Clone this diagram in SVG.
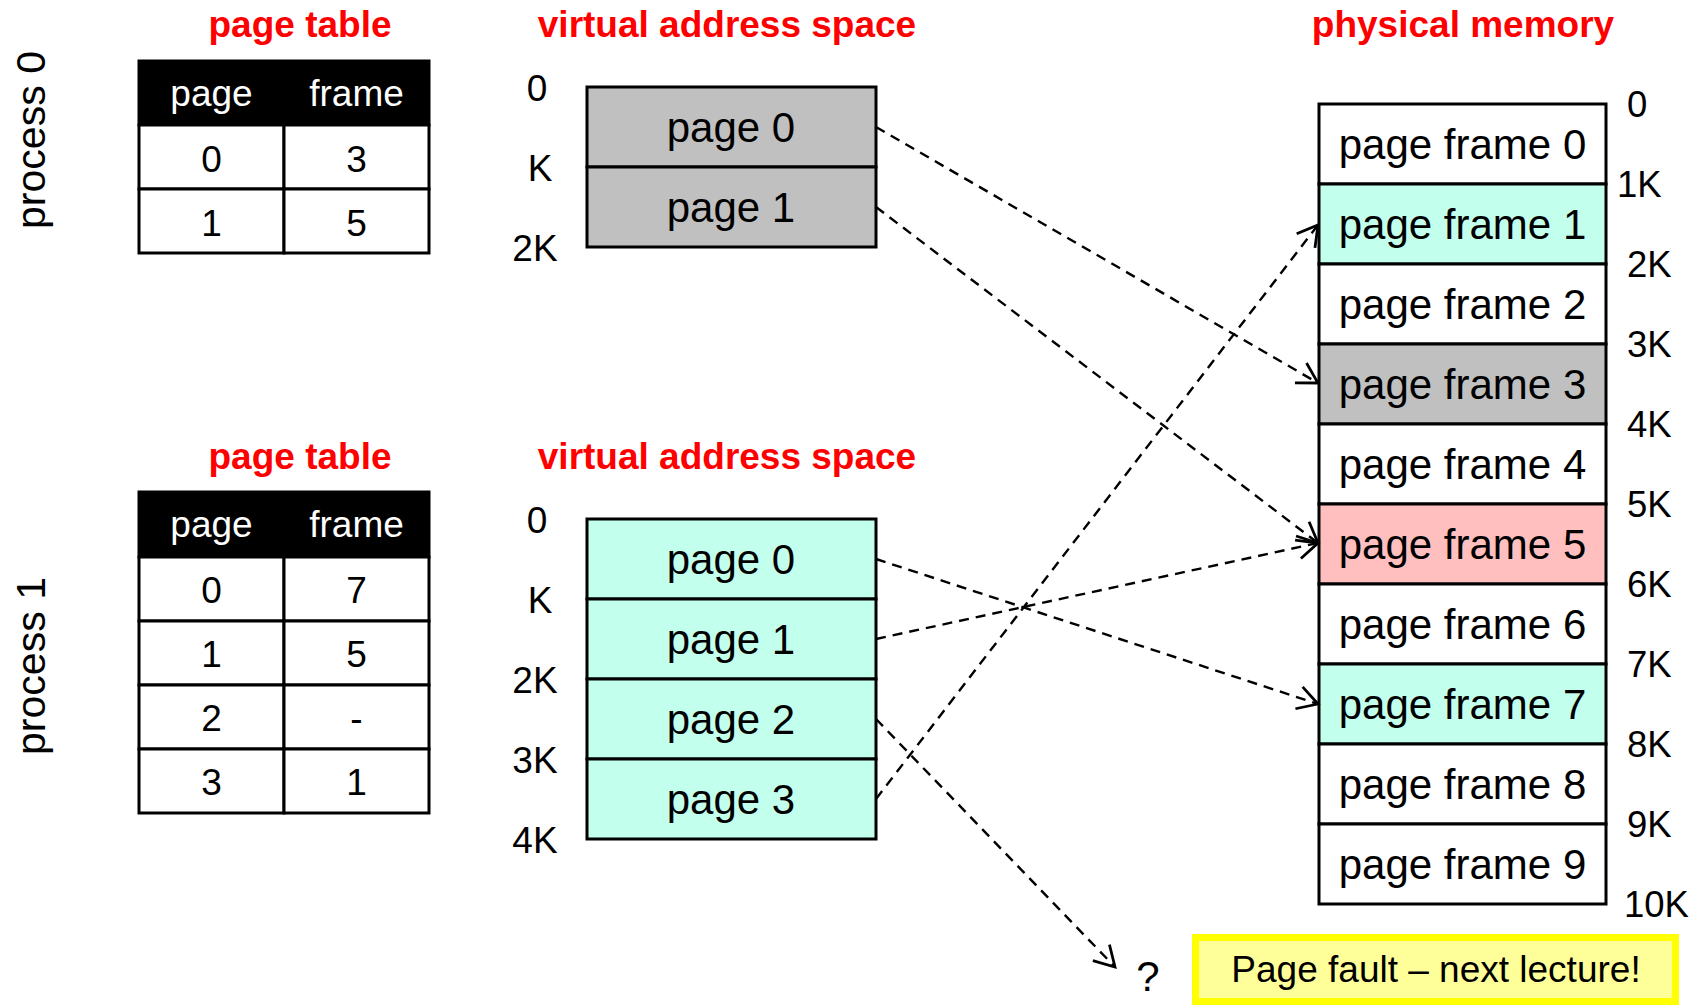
<svg xmlns="http://www.w3.org/2000/svg" width="1691" height="1005" viewBox="0 0 1691 1005">
<defs>
<style>
text{font-family:"Liberation Sans",Arial,sans-serif;fill:#000}
.title{font-size:37px;font-weight:bold;fill:#FF0000;text-anchor:middle}
.cell{fill:#fff;stroke:#000;stroke-width:3}
.hdr{fill:#000;stroke:#000;stroke-width:3}
.ht{fill:#fff;font-size:37px;text-anchor:middle}
.ct{font-size:37px;text-anchor:middle}
.pg{stroke:#000;stroke-width:3}
.gray{fill:#C0C0C0}
.mint{fill:#C2FFEC}
.pink{fill:#FFBFBF}
.white{fill:#fff}
.pt{font-size:42px;text-anchor:middle}
.vl{font-size:37px;text-anchor:middle}
.pl{font-size:36.5px}
.proc{font-size:40px;text-anchor:middle}
.conn{fill:none;stroke:#000;stroke-width:2.4;stroke-dasharray:10 7;marker-end:url(#arr)}
</style>
<marker id="arr" markerUnits="userSpaceOnUse" markerWidth="30" markerHeight="30" viewBox="-22 -13 24 26" refX="0" refY="0" orient="auto">
<path d="M-17.3,-10 L0,0 L-17.3,10" fill="none" stroke="#000" stroke-width="2.4"/>
</marker>
</defs>

<g id="proc0-label"><text class="proc" transform="translate(45,140) rotate(-90)" textLength="178" lengthAdjust="spacingAndGlyphs">process 0</text></g>
<g id="proc1-label"><text class="proc" transform="translate(45,666) rotate(-90)" textLength="178" lengthAdjust="spacingAndGlyphs">process 1</text></g>

<g id="titles">
<text class="title" x="300" y="37">page table</text>
<text class="title" x="727" y="37">virtual address space</text>
<text class="title" x="1463" y="37">physical memory</text>
<text class="title" x="300" y="469">page table</text>
<text class="title" x="727" y="469">virtual address space</text>
</g>

<g id="pagetable0">
<rect class="hdr" x="139" y="61" width="290" height="64"/>
<rect class="cell" x="139" y="125" width="145" height="64"/>
<rect class="cell" x="284" y="125" width="145" height="64"/>
<rect class="cell" x="139" y="189" width="145" height="64"/>
<rect class="cell" x="284" y="189" width="145" height="64"/>
<text class="ht" x="211.5" y="106">page</text>
<text class="ht" x="356.5" y="106">frame</text>
<text class="ct" x="211.5" y="172">0</text>
<text class="ct" x="356.5" y="172">3</text>
<text class="ct" x="211.5" y="236">1</text>
<text class="ct" x="356.5" y="236">5</text>
</g>

<g id="pagetable1">
<rect class="hdr" x="139" y="492" width="290" height="65"/>
<rect class="cell" x="139" y="557" width="145" height="64"/>
<rect class="cell" x="284" y="557" width="145" height="64"/>
<rect class="cell" x="139" y="621" width="145" height="64"/>
<rect class="cell" x="284" y="621" width="145" height="64"/>
<rect class="cell" x="139" y="685" width="145" height="64"/>
<rect class="cell" x="284" y="685" width="145" height="64"/>
<rect class="cell" x="139" y="749" width="145" height="64"/>
<rect class="cell" x="284" y="749" width="145" height="64"/>
<text class="ht" x="211.5" y="537">page</text>
<text class="ht" x="356.5" y="537">frame</text>
<text class="ct" x="211.5" y="603">0</text>
<text class="ct" x="356.5" y="603">7</text>
<text class="ct" x="211.5" y="667">1</text>
<text class="ct" x="356.5" y="667">5</text>
<text class="ct" x="211.5" y="731">2</text>
<text class="ct" x="356.5" y="731">-</text>
<text class="ct" x="211.5" y="795">3</text>
<text class="ct" x="356.5" y="795">1</text>
</g>

<g id="vas0">
<rect class="pg gray" x="587" y="87" width="289" height="80"/>
<rect class="pg gray" x="587" y="167" width="289" height="80"/>
<text class="pt" x="731" y="142">page 0</text>
<text class="pt" x="731" y="222">page 1</text>
<text class="vl" x="537" y="101">0</text>
<text class="vl" x="540" y="181">K</text>
<text class="vl" x="535" y="261">2K</text>
</g>

<g id="vas1">
<rect class="pg mint" x="587" y="519" width="289" height="80"/>
<rect class="pg mint" x="587" y="599" width="289" height="80"/>
<rect class="pg mint" x="587" y="679" width="289" height="80"/>
<rect class="pg mint" x="587" y="759" width="289" height="80"/>
<text class="pt" x="731" y="574">page 0</text>
<text class="pt" x="731" y="654">page 1</text>
<text class="pt" x="731" y="734">page 2</text>
<text class="pt" x="731" y="814">page 3</text>
<text class="vl" x="537" y="533">0</text>
<text class="vl" x="540" y="613">K</text>
<text class="vl" x="535" y="693">2K</text>
<text class="vl" x="535" y="773">3K</text>
<text class="vl" x="535" y="853">4K</text>
</g>

<g id="physmem">
<rect class="pg white" x="1319" y="104" width="287" height="80"/>
<rect class="pg mint" x="1319" y="184" width="287" height="80"/>
<rect class="pg white" x="1319" y="264" width="287" height="80"/>
<rect class="pg gray" x="1319" y="344" width="287" height="80"/>
<rect class="pg white" x="1319" y="424" width="287" height="80"/>
<rect class="pg pink" x="1319" y="504" width="287" height="80"/>
<rect class="pg white" x="1319" y="584" width="287" height="80"/>
<rect class="pg mint" x="1319" y="664" width="287" height="80"/>
<rect class="pg white" x="1319" y="744" width="287" height="80"/>
<rect class="pg white" x="1319" y="824" width="287" height="80"/>
<text class="pt" x="1462.5" y="159">page frame 0</text>
<text class="pt" x="1462.5" y="239">page frame 1</text>
<text class="pt" x="1462.5" y="319">page frame 2</text>
<text class="pt" x="1462.5" y="399">page frame 3</text>
<text class="pt" x="1462.5" y="479">page frame 4</text>
<text class="pt" x="1462.5" y="559">page frame 5</text>
<text class="pt" x="1462.5" y="639">page frame 6</text>
<text class="pt" x="1462.5" y="719">page frame 7</text>
<text class="pt" x="1462.5" y="799">page frame 8</text>
<text class="pt" x="1462.5" y="879">page frame 9</text>
<text class="pl" x="1627" y="117">0</text>
<text class="pl" x="1617" y="197">1K</text>
<text class="pl" x="1627" y="277">2K</text>
<text class="pl" x="1627" y="357">3K</text>
<text class="pl" x="1627" y="437">4K</text>
<text class="pl" x="1627" y="517">5K</text>
<text class="pl" x="1627" y="597">6K</text>
<text class="pl" x="1627" y="677">7K</text>
<text class="pl" x="1627" y="757">8K</text>
<text class="pl" x="1627" y="837">9K</text>
<text class="pl" x="1624" y="917">10K</text>
</g>

<g id="unknown"><text x="1148" y="991" font-size="42" text-anchor="middle">?</text></g>

<g id="note">
<rect x="1195.5" y="937.5" width="480" height="64" fill="#FFFF99" stroke="#FFFF00" stroke-width="7"/>
<text x="1436" y="982" font-size="37" text-anchor="middle">Page fault – next lecture!</text>
</g>

<g id="connectors">
<line class="conn" x1="876" y1="127" x2="1318" y2="383"/>
<line class="conn" x1="876" y1="207" x2="1318" y2="543"/>
<line class="conn" x1="876" y1="559" x2="1318" y2="704"/>
<line class="conn" x1="876" y1="639" x2="1318" y2="543"/>
<line class="conn" x1="876" y1="719" x2="1115" y2="967"/>
<line class="conn" x1="876" y1="799" x2="1318" y2="225"/>
</g>
</svg>
